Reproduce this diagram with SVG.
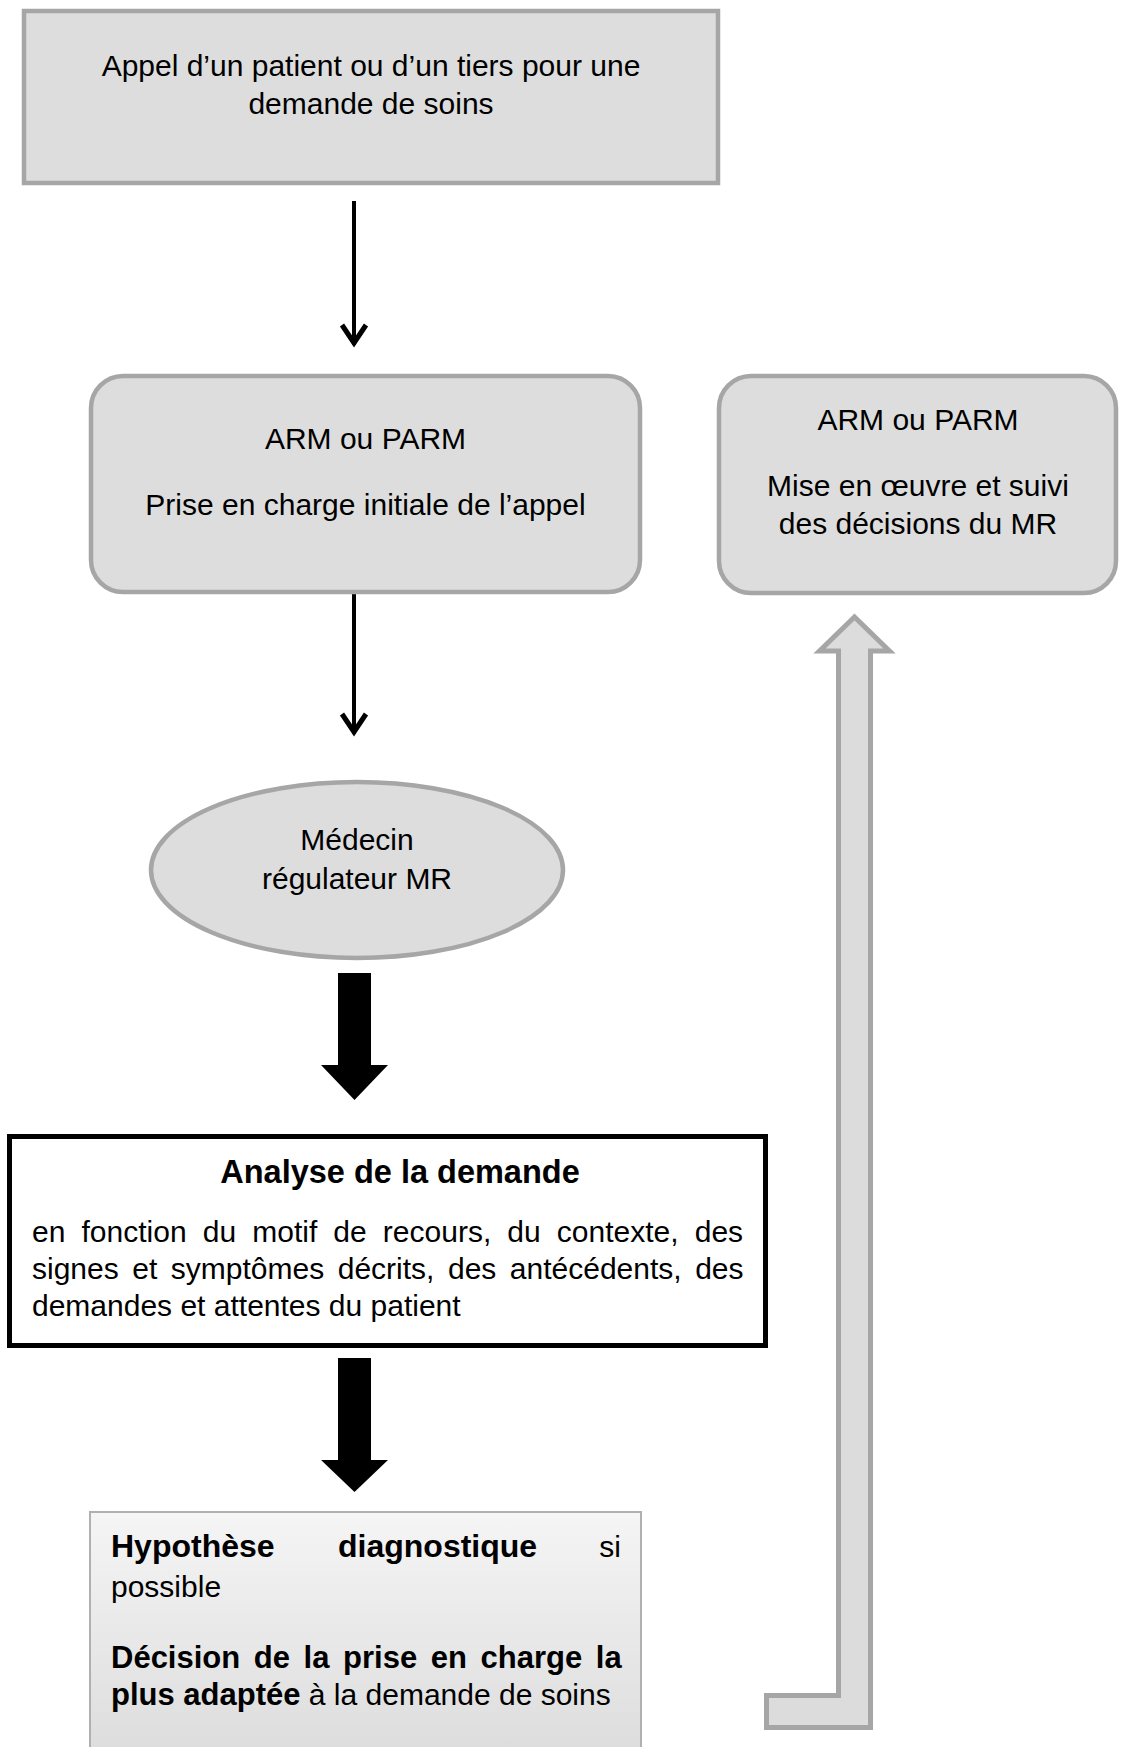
<svg xmlns="http://www.w3.org/2000/svg" width="1121" height="1747" viewBox="0 0 1121 1747">
<style>
text{font-family:"Liberation Sans",Arial,sans-serif;fill:#000;}
.t{font-size:30px;}
.c{text-anchor:middle;}
.b{font-weight:bold;}
.gbox{fill:#dddddd;stroke:#a6a6a6;stroke-width:4.5;}
.thin{stroke:#000;stroke-width:4;fill:none;marker-end:url(#vhead);}
.thick{fill:#000;}
</style>
<defs>
<marker id="vhead" markerUnits="userSpaceOnUse" markerWidth="40" markerHeight="40" viewBox="-30 -20 40 40" refX="0" refY="0" orient="auto">
<path d="M-20,-12 L-2,0 L-20,12" fill="none" stroke="#000" stroke-width="5" stroke-linejoin="miter"/>
</marker>
<linearGradient id="gbot" x1="0" y1="1512" x2="0" y2="1760" gradientUnits="userSpaceOnUse">
<stop offset="0" stop-color="#f5f5f5"/>
<stop offset="1" stop-color="#dcdcdc"/>
</linearGradient>
</defs>

<g id="connectors">
<line class="thin" x1="354" y1="201" x2="354" y2="345"/>
<line class="thin" x1="354" y1="594" x2="354" y2="734"/>
<polygon class="thick" points="338,973 371,973 371,1065 388,1065 354.5,1100 321,1065 338,1065"/>
<polygon class="thick" points="338,1358 371,1358 371,1460 388,1460 354.5,1492 321,1460 338,1460"/>
<polygon points="854.5,617 889.5,651 870.5,651 870.5,1727.5 766.5,1727.5 766.5,1695.5 838.5,1695.5 838.5,651 819.5,651" fill="#dcdcdc" stroke="#a6a6a6" stroke-width="5" stroke-linejoin="miter"/>
</g>

<g id="node-appel">
<rect class="gbox" x="24" y="11" width="694" height="172"/>
<text class="t c" x="371" y="76">Appel d’un patient ou d’un tiers pour une</text>
<text class="t c" x="371" y="114">demande de soins</text>
</g>

<g id="node-arm1">
<rect class="gbox" x="91" y="376" width="549" height="216" rx="32" ry="32"/>
<text class="t c" x="365.5" y="449">ARM ou PARM</text>
<text class="t c" x="365.5" y="515">Prise en charge initiale de l’appel</text>
</g>

<g id="node-arm2">
<rect class="gbox" x="719" y="376" width="397" height="217" rx="32" ry="32"/>
<text class="t c" x="918" y="430">ARM ou PARM</text>
<text class="t c" x="918" y="496">Mise en œuvre et suivi</text>
<text class="t c" x="918" y="534">des décisions du MR</text>
</g>

<g id="node-mr">
<ellipse class="gbox" cx="357" cy="870" rx="206" ry="88"/>
<text class="t c" x="357" y="850">Médecin</text>
<text class="t c" x="357" y="889">régulateur MR</text>
</g>

<g id="node-analyse">
<rect x="9.5" y="1136.5" width="756" height="209" fill="#fff" stroke="#000" stroke-width="5"/>
<text class="b c" x="400" y="1183" font-size="32.5">Analyse de la demande</text>
<text class="t" x="32" y="1242" word-spacing="7.8">en fonction du motif de recours, du contexte, des</text>
<text class="t" x="32" y="1279" word-spacing="5.2">signes et symptômes décrits, des antécédents, des</text>
<text class="t" x="32" y="1316">demandes et attentes du patient</text>
</g>

<g id="node-decision">
<rect x="90" y="1512" width="551" height="250" fill="url(#gbot)" stroke="#b0b0b0" stroke-width="2"/>
<text class="b" x="111" y="1557" font-size="32">Hypothèse</text>
<text class="b" x="338" y="1557" font-size="32">diagnostique</text>
<text x="621" y="1557" font-size="30" text-anchor="end">si</text>
<text x="111" y="1597" font-size="30">possible</text>
<text class="b" x="111" y="1668" font-size="31" word-spacing="5">Décision de la prise en charge la</text>
<text x="111" y="1705" font-size="30"><tspan class="b" font-size="31">plus adaptée</tspan> à la demande de soins</text>
</g>
</svg>
